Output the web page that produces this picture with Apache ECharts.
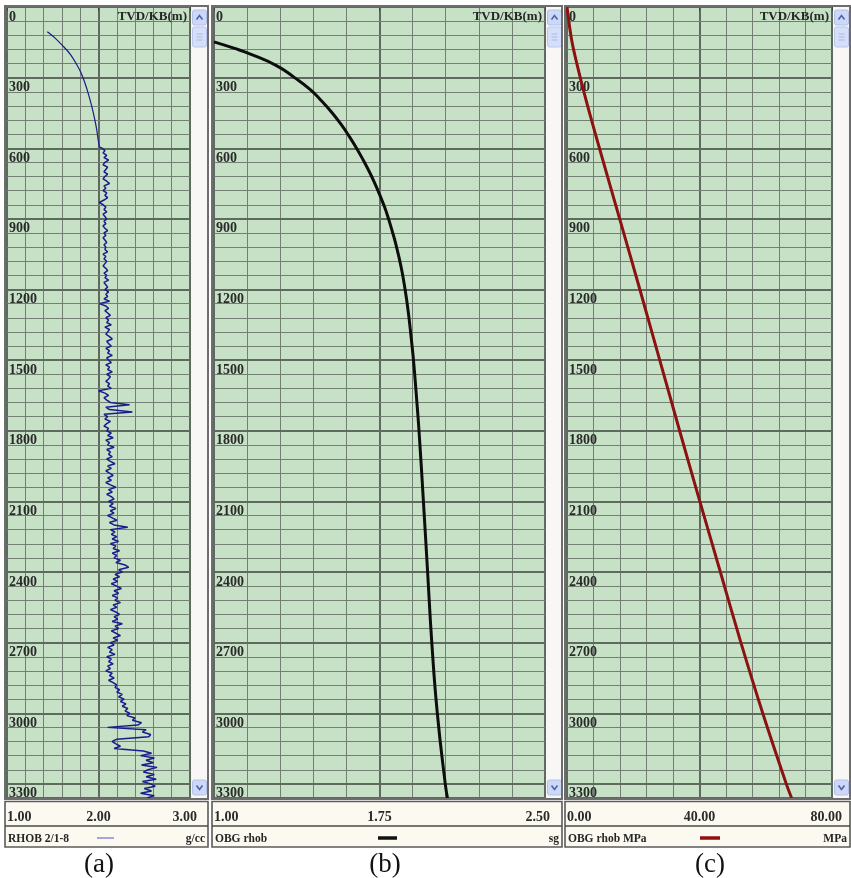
<!DOCTYPE html>
<html><head><meta charset="utf-8">
<script src="https://cdn.jsdelivr.net/npm/echarts@6/dist/echarts.min.js"></script>
<style>html,body{margin:0;padding:0;background:#fff;}#c{width:851px;height:878px;}</style>
</head><body><div id="c"></div>
<script>
// ---------------- DATA ----------------
const depthTitle = 'TVD/KB(m)';
const depthRange = [0, 3360];          // min, max (m)
const depthMajor = 300;                // labelled depth lines
const depthMinor = 60;                 // thin depth lines
const trackNames = ['RHOB 2/1-8', 'OBG rhob', 'OBG rhob MPa'];
const trackUnits = ['g/cc', 'sg', 'MPa'];
const captions = ['(a)', '(b)', '(c)'];
const rhobScale = [1.00, 3.00, 1.00];     // min, max, labelled step
const obgRhobScale = [1.00, 2.50, 0.75];
const obgMPaScale = [0.00, 80.00, 40.00];

// (a) RHOB: shallow compaction trend [depth, g/cc]
const rhobTrend = [[105,1.44],[130,1.52],[165,1.61],[200,1.69],[243,1.76],[280,1.81],[321,1.85],[370,1.89],[420,1.925],[470,1.955],[520,1.98],[560,1.995],[595,2.01]];
// (a) RHOB: logged density [depth, g/cc]
const rhobLog = [
[600,2.04],[610,2.07],[620,2.05],[630,2.09],[640,2.06],[650,2.11],[660,2.07],[670,2.05],[680,2.10],[690,2.08],
[700,2.06],[710,2.10],[720,2.07],[730,2.05],[740,2.09],[750,2.12],[760,2.06],[770,2.08],[780,2.05],[790,2.09],
[800,2.07],[810,2.10],[820,2.06],[830,2.01],[840,2.05],[850,2.08],[860,2.06],[870,2.09],[880,2.05],[890,2.07],
[900,2.09],[910,2.06],[920,2.08],[930,2.05],[940,2.07],[950,2.10],[960,2.06],[970,2.08],[980,2.05],[990,2.07],
[1000,2.09],[1010,2.06],[1020,2.08],[1030,2.07],[1040,2.10],[1050,2.05],[1060,2.08],[1070,2.06],[1080,2.09],[1090,2.07],
[1100,2.05],[1110,2.08],[1120,2.10],[1130,2.06],[1140,2.09],[1150,2.07],[1160,2.11],[1170,2.06],[1180,2.08],[1190,2.10],
[1200,2.07],[1210,2.11],[1220,2.08],[1230,2.10],[1240,2.06],[1250,2.12],[1260,2.01],[1270,2.08],[1280,2.11],[1290,2.07],
[1300,2.10],[1310,2.13],[1320,2.08],[1330,2.11],[1340,2.09],[1350,2.14],[1360,2.07],[1370,2.12],[1380,2.10],[1390,2.08],
[1400,2.12],[1410,2.15],[1420,2.09],[1430,2.11],[1440,2.14],[1450,2.08],[1460,2.12],[1470,2.10],[1480,2.15],[1490,2.09],
[1500,2.11],[1510,2.14],[1520,2.08],[1530,2.12],[1540,2.10],[1550,2.15],[1560,2.09],[1570,2.13],[1580,2.11],[1590,2.08],
[1600,2.12],[1610,2.10],[1620,2.14],[1630,2.00],[1640,2.07],[1650,2.11],[1660,2.06],[1670,2.09],[1680,2.13],[1690,2.34],
[1700,2.08],[1710,2.12],[1720,2.37],[1730,2.06],[1740,2.10],[1750,2.07],[1760,2.13],[1770,2.09],[1780,2.06],[1790,2.11],
[1800,2.09],[1810,2.14],[1820,2.10],[1830,2.16],[1840,2.08],[1850,2.12],[1860,2.10],[1870,2.17],[1880,2.09],[1890,2.13],
[1900,2.11],[1910,2.15],[1920,2.09],[1930,2.13],[1940,2.18],[1950,2.10],[1960,2.14],[1970,2.08],[1980,2.12],[1990,2.16],
[2000,2.10],[2010,2.14],[2020,2.08],[2030,2.13],[2040,2.19],[2050,2.11],[2060,2.15],[2070,2.09],[2080,2.14],[2090,2.17],
[2100,2.11],[2110,2.16],[2120,2.12],[2130,2.19],[2140,2.13],[2150,2.17],[2160,2.10],[2170,2.15],[2180,2.20],[2190,2.12],
[2200,2.17],[2210,2.32],[2220,2.13],[2230,2.18],[2240,2.14],[2250,2.20],[2260,2.15],[2270,2.22],[2280,2.13],[2290,2.19],
[2300,2.16],[2310,2.23],[2320,2.15],[2330,2.20],[2340,2.17],[2350,2.24],[2360,2.19],[2370,2.29],[2380,2.33],[2390,2.22],
[2400,2.26],[2410,2.18],[2420,2.23],[2430,2.16],[2440,2.21],[2450,2.14],[2460,2.20],[2470,2.25],[2480,2.17],[2490,2.22],
[2500,2.15],[2510,2.21],[2520,2.18],[2530,2.24],[2540,2.16],[2550,2.20],[2560,2.13],[2570,2.19],[2580,2.23],[2590,2.17],
[2600,2.21],[2610,2.15],[2620,2.26],[2630,2.18],[2640,2.22],[2650,2.14],[2660,2.19],[2670,2.24],[2680,2.16],[2690,2.21],
[2700,2.13],[2710,2.17],[2720,2.10],[2730,2.15],[2740,2.12],[2750,2.18],[2760,2.09],[2770,2.14],[2780,2.11],[2790,2.16],
[2800,2.10],[2810,2.13],[2820,2.08],[2830,2.15],[2840,2.12],[2850,2.17],[2860,2.11],[2870,2.16],[2880,2.20],[2890,2.18],
[2900,2.23],[2910,2.20],[2920,2.26],[2930,2.22],[2940,2.28],[2950,2.24],[2960,2.30],[2970,2.26],[2980,2.32],[2990,2.29],
[3000,2.34],[3010,2.31],[3020,2.40],[3030,2.37],[3040,2.47],[3050,2.43],[3060,2.10],[3070,2.52],[3080,2.48],[3090,2.57],
[3100,2.55],[3110,2.20],[3120,2.15],[3130,2.19],[3140,2.24],[3150,2.17],[3160,2.49],[3170,2.58],[3180,2.46],[3190,2.61],
[3200,2.52],[3210,2.60],[3220,2.47],[3230,2.64],[3240,2.54],[3250,2.49],[3260,2.61],[3270,2.52],[3280,2.63],[3290,2.48],
[3300,2.57],[3310,2.62],[3320,2.50],[3330,2.58],[3340,2.46],[3350,2.61],[3360,2.53]
];
// (b) overburden gradient as density [depth, sg]
const obgRhob = [[148,1.00],[175,1.09],[200,1.165],[250,1.285],[300,1.365],[350,1.435],[400,1.489],[450,1.536],[500,1.577],[550,1.613],[600,1.646],[650,1.676],[700,1.704],[750,1.729],[800,1.752],[850,1.773],[900,1.791],[950,1.807],[1000,1.822],[1100,1.847],[1200,1.866],[1300,1.881],[1400,1.893],[1500,1.904],[1650,1.917],[1800,1.929],[2100,1.949],[2400,1.968],[2700,1.987],[3000,2.012],[3300,2.048],[3360,2.058]];
// (c) overburden pressure [depth, MPa]
const obgMPa = [[0,0],[148,1.5],[300,4.0],[450,6.8],[600,9.8],[900,15.9],[1200,22.0],[1500,28.0],[1800,34.0],[2100,40.1],[2400,46.3],[2700,52.5],[3000,59.1],[3300,66.2],[3360,67.8]];

// ---------------- LAYOUT / STYLE ----------------
const SERIF = '"Liberation Serif","Times New Roman",serif';
const PLOT_TOP = 7, PLOT_H = 791;
const panels = [
  {plotL: 7,   plotR: 190, frameL: 5,   frameR: 208, scale: rhobScale,    color: '#1b1b8c', width: 1.5, sample: {c:'#9090d8', w:1.6, x0: 97, x1: 114}, cap: 99,  maxShift: 7},
  {plotL: 214, plotR: 545, frameL: 212, frameR: 562, scale: obgRhobScale, color: '#0d0d0d', width: 3,   sample: {c:'#111', w:3.5, x0: 378, x1: 397}, cap: 385, maxShift: 5},
  {plotL: 567, plotR: 832, frameL: 565, frameR: 850, scale: obgMPaScale,  color: '#8c1212', width: 3,   sample: {c:'#8c1212', w:3.5, x0: 700, x1: 720}, cap: 710, maxShift: 10}
];
const BG = '#c6e1c6', MAJ = '#5f6a5f', MIN = '#737f73';
const NUMFONT = {fontFamily: SERIF, fontWeight: 'bold', fontSize: 14, color: '#2a2a2a'};

const grids = [], xAxes = [], yAxes = [], series = [], gfx = [];
panels.forEach((p, i) => {
  grids.push({left: p.plotL, top: PLOT_TOP, width: p.plotR - p.plotL, height: PLOT_H,
    show: true, backgroundColor: BG, borderWidth: 0, containLabel: false, outerBoundsMode: 'none'});
  const mx = p.scale[1];
  xAxes.push({gridIndex: i, type: 'value', min: p.scale[0], max: p.scale[1], interval: p.scale[2],
    position: 'bottom', offset: 4,
    axisLine: {show: false},
    axisTick: {show: true, length: 4, lineStyle: {color: '#444', width: 1}},
    axisLabel: Object.assign({margin: 8, alignMinLabel: 'left', alignMaxLabel: 'right',
      formatter: v => (Math.abs(v - mx) < 1e-9 ? '{m|' + v.toFixed(2) + '}' : v.toFixed(2)),
      rich: {m: Object.assign({padding: [0, -p.maxShift, 0, 0]}, NUMFONT)}}, NUMFONT),
    splitLine: {show: true, lineStyle: {color: MAJ, width: 2}},
    minorTick: {show: false, splitNumber: 5},
    minorSplitLine: {show: true, lineStyle: {color: MIN, width: 1}}
  });
  // labelled depth axis
  yAxes.push({gridIndex: i, type: 'value', inverse: true, min: depthRange[0], max: depthRange[1], interval: depthMajor,
    axisLine: {show: false}, axisTick: {show: false},
    axisLabel: Object.assign({inside: true, margin: 2, align: 'left', verticalAlign: 'top', padding: [3, 0, 0, 0],
      showMaxLabel: false, formatter: v => String(v)}, NUMFONT),
    splitLine: {show: true, lineStyle: {color: MAJ, width: 2}}, z: 3
  });
  // thin depth lines
  yAxes.push({gridIndex: i, type: 'value', inverse: true, min: depthRange[0], max: depthRange[1], interval: depthMinor,
    axisLine: {show: false}, axisTick: {show: false}, axisLabel: {show: false},
    splitLine: {show: true, lineStyle: {color: MIN, width: 1}}, z: 1
  });

  // frame
  gfx.push({type: 'rect', z: 100, shape: {x: p.frameL, y: 6, width: p.frameR - p.frameL, height: 793},
    style: {fill: 'none', stroke: '#6d6d6d', lineWidth: 2}});
  // scroll bar
  const sx = p.plotR + 1, sw = p.frameR - p.plotR - 2;
  gfx.push({type: 'rect', z: 90, shape: {x: sx, y: 7, width: sw, height: 791}, style: {fill: '#f9f7f6'}});
  const bx = p.plotR + 2.5, bw = 14;
  gfx.push({type: 'rect', z: 95, shape: {x: bx, y: 10, width: bw, height: 15, r: 2}, style: {fill: '#cdd8f7', stroke: '#b2c1ec', lineWidth: 1}});
  gfx.push({type: 'polyline', z: 96, shape: {points: [[bx + 4, 19.5], [bx + 7, 15.5], [bx + 10, 19.5]]}, style: {stroke: '#4c61ad', lineWidth: 1.6, fill: 'none'}});
  gfx.push({type: 'rect', z: 95, shape: {x: bx, y: 27, width: bw, height: 20, r: 2}, style: {fill: '#d6dff9', stroke: '#b9c6ee', lineWidth: 1}});
  [34, 37, 40].forEach(yy => gfx.push({type: 'line', z: 96, shape: {x1: bx + 4, y1: yy, x2: bx + 10, y2: yy}, style: {stroke: '#aab8e4', lineWidth: 1}}));
  gfx.push({type: 'rect', z: 95, shape: {x: bx, y: 780, width: bw, height: 15, r: 2}, style: {fill: '#cdd8f7', stroke: '#b2c1ec', lineWidth: 1}});
  gfx.push({type: 'polyline', z: 96, shape: {points: [[bx + 4, 785.5], [bx + 7, 789.5], [bx + 10, 785.5]]}, style: {stroke: '#4c61ad', lineWidth: 1.6, fill: 'none'}});
  // depth title
  gfx.push({type: 'text', z: 97, style: {text: depthTitle, x: p.plotR - 3, y: 17, font: 'bold 13px ' + SERIF,
    fill: '#262626', textAlign: 'right', align: 'right', textVerticalAlign: 'middle', verticalAlign: 'middle'}});
  // bottom scale box
  gfx.push({type: 'rect', z: 0, shape: {x: p.frameL, y: 801.5, width: p.frameR - p.frameL, height: 45.5},
    style: {fill: '#fcfaf0', stroke: '#5b5b5b', lineWidth: 1.6}});
  gfx.push({type: 'line', z: 1, shape: {x1: p.frameL, y1: 826, x2: p.frameR, y2: 826}, style: {stroke: '#4a4a4a', lineWidth: 1.6}});
  gfx.push({type: 'text', z: 2, style: {text: trackNames[i], x: p.frameL + 3, y: 839.5, font: 'bold 11.5px ' + SERIF,
    fill: '#262626', textAlign: 'left', align: 'left', textVerticalAlign: 'middle', verticalAlign: 'middle'}});
  gfx.push({type: 'text', z: 2, style: {text: trackUnits[i], x: p.frameR - 3, y: 839.5, font: 'bold 11.5px ' + SERIF,
    fill: '#262626', textAlign: 'right', align: 'right', textVerticalAlign: 'middle', verticalAlign: 'middle'}});
  gfx.push({type: 'line', z: 2, shape: {x1: p.sample.x0, y1: 838, x2: p.sample.x1, y2: 838}, style: {stroke: p.sample.c, lineWidth: p.sample.w}});
  // caption
  gfx.push({type: 'text', z: 2, style: {text: captions[i], x: p.cap, y: 865, font: '27px ' + SERIF,
    fill: '#111', textAlign: 'center', align: 'center', textVerticalAlign: 'middle', verticalAlign: 'middle'}});
});

const lineBase = {type: 'line', showSymbol: false, symbol: 'none', silent: true, animation: false, clip: true, z: 5};
series.push(Object.assign({}, lineBase, {name: 'RHOB trend', xAxisIndex: 0, yAxisIndex: 0, smooth: 0.3,
  data: rhobTrend.map(d => [d[1], d[0]]), lineStyle: {color: panels[0].color, width: 1.2}}));
series.push(Object.assign({}, lineBase, {name: trackNames[0], xAxisIndex: 0, yAxisIndex: 0,
  data: [rhobTrend[rhobTrend.length - 1]].concat(rhobLog).map(d => [d[1], d[0]]), lineStyle: {color: panels[0].color, width: panels[0].width}}));
series.push(Object.assign({}, lineBase, {name: trackNames[1], xAxisIndex: 1, yAxisIndex: 2, smooth: 0.5,
  data: obgRhob.map(d => [d[1], d[0]]), lineStyle: {color: panels[1].color, width: panels[1].width}}));
series.push(Object.assign({}, lineBase, {name: trackNames[2], xAxisIndex: 2, yAxisIndex: 4, smooth: 0.3,
  data: obgMPa.map(d => [d[1], d[0]]), lineStyle: {color: panels[2].color, width: panels[2].width}}));

const chart = echarts.init(document.getElementById('c'), null, {renderer: 'canvas'});
chart.setOption({
  animation: false,
  backgroundColor: '#ffffff',
  grid: grids, xAxis: xAxes, yAxis: yAxes, series: series,
  graphic: {elements: gfx}
});
</script></body></html>
